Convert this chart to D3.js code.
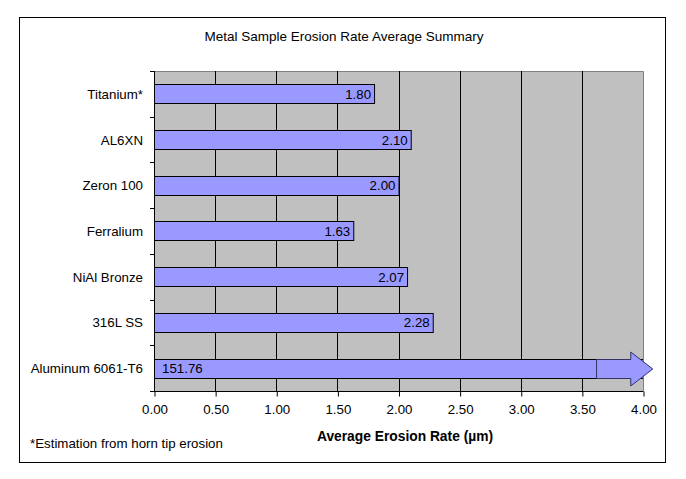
<!DOCTYPE html>
<html>
<head>
<meta charset="utf-8">
<script src="https://cdn.jsdelivr.net/npm/d3@7"></script>
<style>
  body { margin: 0; background: #fff; }
  text { font-family: "Liberation Sans", Arial, sans-serif; fill: #000; }
</style>
</head>
<body>
<div id="chart"></div>
<script>
// data
var samples = ["Titanium*", "AL6XN", "Zeron 100", "Ferralium", "NiAl Bronze", "316L SS", "Aluminum 6061-T6"];
var erosionRates = [1.80, 2.10, 2.00, 1.63, 2.07, 2.28, 151.76];
var xTicks = [0, 0.5, 1, 1.5, 2, 2.5, 3, 3.5, 4];
var xMax = 4;

var svgWidth = 686, svgHeight = 479;
var plot = { left: 154, top: 71, right: 643, bottom: 391 };
var fs = 13.3;

var svg = d3.select("#chart").append("svg")
    .attr("width", svgWidth)
    .attr("height", svgHeight);

// outer frame
svg.append("rect")
    .attr("x", 19.5).attr("y", 17.5)
    .attr("width", 646).attr("height", 445)
    .attr("fill", "#fff").attr("stroke", "#000").attr("stroke-width", 1);

svg.append("text")
    .attr("x", 344).attr("y", 41)
    .attr("text-anchor", "middle")
    .attr("font-size", 13.5)
    .text("Metal Sample Erosion Rate Average Summary");

var xScale = d3.scaleLinear().domain([0, xMax]).range([plot.left, plot.right]);
var yScale = d3.scaleBand().domain(samples)
    .range([plot.top, plot.bottom])
    .paddingInner(0.584).paddingOuter(0.292);

// plot background
svg.append("rect")
    .attr("x", plot.left).attr("y", plot.top)
    .attr("width", plot.right - plot.left).attr("height", plot.bottom - plot.top)
    .attr("fill", "#c0c0c0");

// top / right edges of plot area
svg.append("path")
    .attr("d", `M${plot.left},${plot.top + 0.5}H${plot.right + 0.5}V${plot.bottom}`)
    .attr("fill", "none").attr("stroke", "#808080");

// vertical gridlines
svg.selectAll(".grid").data(xTicks.slice(1, -1)).enter().append("line")
    .attr("x1", d => Math.round(xScale(d)) + 0.5).attr("x2", d => Math.round(xScale(d)) + 0.5)
    .attr("y1", plot.top).attr("y2", plot.bottom)
    .attr("stroke", "#000");

// bars
svg.append("clipPath").attr("id", "plotClip").append("rect")
    .attr("x", plot.left).attr("y", plot.top)
    .attr("width", plot.right - plot.left).attr("height", plot.bottom - plot.top);

svg.append("g").attr("clip-path", "url(#plotClip)")
    .selectAll("rect").data(samples).enter().append("rect")
    .attr("x", plot.left + 0.5)
    .attr("y", d => Math.round(yScale(d)) + 0.5)
    .attr("width", (d, i) => Math.min(xScale(erosionRates[i]), plot.right + 5) - plot.left)
    .attr("height", Math.round(yScale.bandwidth()))
    .attr("fill", "#9999ff").attr("stroke", "#000");

// arrow for off-scale value
var last = samples.length - 1;
var ay = Math.round(yScale(samples[last])) + 0.5;
var ah = Math.round(yScale.bandwidth());
var ax0 = xScale(3.62), axHead = xScale(3.9), axTip = xScale(4.08);
var acy = ay + ah / 2;
svg.append("path")
    .attr("d", `M${ax0},${ay}H${axHead}V${acy - 17}L${axTip},${acy}L${axHead},${acy + 17}V${ay + ah}H${ax0}Z`)
    .attr("fill", "#9999ff").attr("stroke", "#333366").attr("stroke-width", 1);

// value labels
svg.selectAll(".val").data(samples).enter().append("text")
    .attr("x", (d, i) => erosionRates[i] > xMax ? plot.left + 8 : xScale(erosionRates[i]) - 3)
    .attr("y", d => yScale(d) + yScale.bandwidth() / 2 + 5)
    .attr("text-anchor", (d, i) => erosionRates[i] > xMax ? "start" : "end")
    .attr("font-size", fs)
    .text((d, i) => erosionRates[i].toFixed(2));

// y axis
var yAxis = svg.append("g");
yAxis.append("line")
    .attr("x1", plot.left + 0.5).attr("x2", plot.left + 0.5)
    .attr("y1", plot.top).attr("y2", plot.bottom + 1)
    .attr("stroke", "#000");
yAxis.selectAll(".tick").data(d3.range(samples.length + 1)).enter().append("line")
    .attr("x1", plot.left - 4).attr("x2", plot.left)
    .attr("y1", i => Math.round(plot.top + i * yScale.step()) + 0.5)
    .attr("y2", i => Math.round(plot.top + i * yScale.step()) + 0.5)
    .attr("stroke", "#000");
yAxis.selectAll(".lab").data(samples).enter().append("text")
    .attr("x", 143)
    .attr("y", d => yScale(d) + yScale.bandwidth() / 2 + 5)
    .attr("text-anchor", "end")
    .attr("font-size", fs)
    .text(d => d);

// x axis
var bottomAxis = d3.axisBottom(xScale)
    .tickValues(xTicks)
    .tickFormat(d3.format(".2f"))
    .tickSize(5)
    .tickPadding(8);

var xg = svg.append("g")
    .attr("transform", `translate(0.5, ${plot.bottom + 0.5})`)
    .call(bottomAxis);
xg.select(".domain").attr("d", `M${plot.left},0H${plot.right}`).attr("stroke", "#000");
xg.selectAll(".tick line").attr("stroke", "#000");
xg.selectAll("text")
    .attr("font-family", "Liberation Sans, Arial, sans-serif")
    .attr("font-size", fs)
    .attr("fill", "#000");

svg.append("text")
    .attr("x", 405).attr("y", 441)
    .attr("text-anchor", "middle")
    .attr("font-size", 13.8)
    .attr("font-weight", "bold")
    .text("Average Erosion Rate (µm)");

svg.append("text")
    .attr("x", 30).attr("y", 448)
    .attr("font-size", fs)
    .text("*Estimation from horn tip erosion");
</script>
</body>
</html>
